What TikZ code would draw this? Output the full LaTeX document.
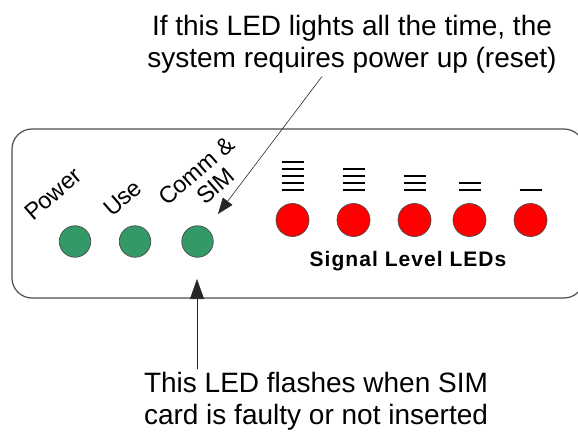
\documentclass[tikz,border=0pt]{standalone}
\usepackage{fontspec}
\setmainfont{Liberation Sans}
\newfontfamily\sigfont[LetterSpace=5]{Liberation Sans}
\usepackage{xcolor}
\definecolor{ledgreen}{HTML}{339966}
\definecolor{ledred}{HTML}{FF0000}
\definecolor{rimgray}{HTML}{4D4D4D}
\usepackage{tikz}
\usetikzlibrary{arrows.meta,calc}
\tikzset{
  >={Triangle[length=16pt,width=12pt]},
  every picture/.style={line cap=round, line join=round},
  note/.style={font=\fontsize{28}{32}\selectfont, align=center, inner sep=3pt},
  ledlbl/.style={font=\fontsize{23.5}{26}\selectfont, rotate=41, anchor=base west, inner sep=0pt},
  panel/.style={draw=rimgray, line width=1.2pt, rounded corners=20pt},
  greenled/.style={circle, draw=black!70, line width=0.7pt, fill=ledgreen, minimum size=31.5pt, inner sep=0pt},
  redled/.style={circle, draw=black!70, line width=0.7pt, fill=ledred, minimum size=33pt, inner sep=0pt},
  bar/.style={black, line width=2pt, line cap=butt},
  pointer/.style={black!85, line width=0.6pt, ->},
}

\begin{document}
\begin{tikzpicture}[x=1pt, y=-1pt]
\useasboundingbox (0,0) rectangle (578,431);
\clip (0,0) rectangle (578,431);
% front panel
\draw[panel] (12,129) rectangle (584,298);
% status LEDs
\foreach \n/\x in {pwr/75, use/135, sim/197.5}
  \node[greenled] (\n) at (\x,241.5) {};
\node[ledlbl] (pwrlbl) at (33,222) {Power};
\node[ledlbl] (uselbl) at (112,218) {Use};
\node[ledlbl] (commlbl) at (167,207) {Comm \&};
\node[ledlbl] (simlbl) at (205,206) {SIM};
% signal level LEDs, bars above each
\foreach \i/\x in {1/292.5, 2/353.5, 3/414.5, 4/469.5, 5/530.5} {
  \node[redled] (sig\i) at (\x,220) {};
  \foreach \k in {\i,...,5}
    \draw[bar] (\x-11,190-7*\k+7*\i) -- (\x+11,190-7*\k+7*\i);
}
\node[font=\sigfont\bfseries\fontsize{21}{24}\selectfont, anchor=base] (siglbl) at (408,266) {Signal Level LEDs};
% call-outs
\node[note, anchor=north] (warn) at (352,12) {If this LED lights all the time, the\\system requires power up (reset)};
\node[note, anchor=north] (flash) at (316,369) {This LED flashes when SIM\\card is faulty or not inserted};
\coordinate (commtip) at (218,214);
\coordinate (simtip) at (197,279);
\draw[pointer] ([xshift=-30pt]warn.south) -- (commtip);
\draw[pointer, -{Triangle[length=20pt,width=14pt]}] (flash.north -| simtip) -- (simtip);
\end{tikzpicture}
\end{document}
